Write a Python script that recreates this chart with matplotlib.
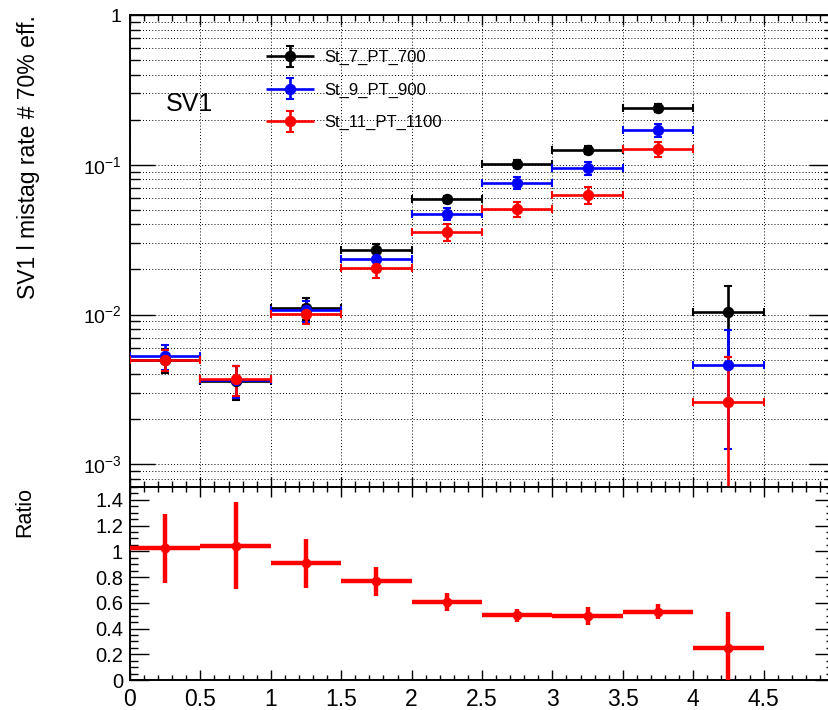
import matplotlib
matplotlib.use("Agg")
import matplotlib.pyplot as plt
import numpy as np
from matplotlib.container import ErrorbarContainer
from matplotlib.legend_handler import HandlerErrorbar
from matplotlib.lines import Line2D
from matplotlib.ticker import (FixedLocator, LogLocator, MultipleLocator,
                               NullFormatter, FuncFormatter)

plt.rcParams["font.family"] = ["Liberation Sans", "DejaVu Sans"]
plt.rcParams["mathtext.fontset"] = "custom"
plt.rcParams["mathtext.rm"] = "Liberation Sans"
plt.rcParams["mathtext.it"] = "Liberation Sans:italic"

# Binning in x (bin centres, half widths)
bin_centers = [0.25, 0.75, 1.25, 1.75, 2.25, 2.75, 3.25, 3.75, 4.25]
bin_half_width = 0.25

# Mistag rate at 70% efficiency for each sample
rate_st7 = [4.95e-3, 3.60e-3, 1.10e-2, 2.69e-2, 5.87e-2, 0.101, 0.125, 0.239, 1.04e-2]
err_st7 = [0.9e-3, 0.9e-3, 1.8e-3, 2.7e-3, 3.5e-3, 6.0e-3, 7.5e-3, 0.014, 5.2e-3]

rate_st9 = [5.27e-3, 3.65e-3, 1.064e-2, 2.33e-2, 4.71e-2, 0.0759, 0.0946, 0.170, 4.57e-3]
err_st9 = [1.0e-3, 0.9e-3, 1.7e-3, 2.8e-3, 4.5e-3, 7.0e-3, 9.5e-3, 0.017, 3.3e-3]

rate_st11 = [5.0e-3, 3.70e-3, 1.01e-2, 2.06e-2, 3.57e-2, 0.0506, 0.0628, 0.127, 2.6e-3]
err_st11 = [0.8e-3, 0.85e-3, 1.4e-3, 3.0e-3, 4.5e-3, 6.0e-3, 8.5e-3, 0.015, 2.6e-3]

# Ratio St_11_PT_1100 / St_7_PT_700
ratio = [1.023, 1.044, 0.906, 0.766, 0.609, 0.503, 0.500, 0.531, 0.247]
ratio_err = [0.27, 0.34, 0.19, 0.115, 0.07, 0.05, 0.07, 0.06, 0.28]

series = [
    ("St_7_PT_700", rate_st7, err_st7, "black"),
    ("St_9_PT_900", rate_st9, err_st9, "#0000ff"),
    ("St_11_PT_1100", rate_st11, err_st11, "#ff0000"),
]


class NoXCapHandler(HandlerErrorbar):
    """Legend entry with caps only on the vertical error bar."""

    def create_artists(self, *args, **kwargs):
        artists = super().create_artists(*args, **kwargs)
        for art in artists:
            if isinstance(art, Line2D) and art.get_marker() == "|":
                art.set_visible(False)
        return artists


W, H = 829, 710
fig = plt.figure(figsize=(W / 100, H / 100), dpi=100)
left, right = 130, 834
ax = fig.add_axes([left / W, 1 - 487 / H, (right - left) / W, (487 - 15) / H])
axr = fig.add_axes([left / W, 1 - 680 / H, (right - left) / W, (680 - 487) / H])

grid_style = dict(color="black", linestyle=(0, (1, 2.2)), linewidth=0.7)

# ---- main panel ----
for label, vals, errs, color in series:
    ax.errorbar(bin_centers, vals, xerr=bin_half_width, yerr=errs, fmt="o",
                color=color, ms=7.2, lw=1.9, capsize=3.0, capthick=1.5,
                label=label, zorder=3)

ax.set_yscale("log", nonpositive="clip")
ax.set_ylim(7.05e-4, 1.0)
ax.set_xlim(0, 5)
ax.yaxis.set_major_locator(FixedLocator([1e-3, 1e-2, 1e-1, 1.0]))
ax.yaxis.set_minor_locator(LogLocator(base=10, subs=np.arange(2, 10)))
ax.yaxis.set_minor_formatter(NullFormatter())
ax.yaxis.set_major_formatter(FuncFormatter(
    lambda v, p: "1" if v >= 1 else r"$\mathdefault{10^{%d}}$" % round(np.log10(v))))
ax.xaxis.set_major_locator(MultipleLocator(0.5))
ax.xaxis.set_minor_locator(MultipleLocator(0.1))
ax.tick_params(axis="x", labelbottom=False)
ax.grid(True, which="both", axis="y", **grid_style)
ax.grid(True, which="major", axis="x", **grid_style)
ax.set_axisbelow(True)

ax.tick_params(which="both", direction="in", top=True, right=True, width=1.0)
ax.tick_params(axis="y", which="major", length=18, labelsize=14, pad=6)
ax.tick_params(axis="y", which="minor", length=7)
ax.tick_params(axis="x", which="major", length=7)
ax.tick_params(axis="x", which="minor", length=4)

ax.set_ylabel("SV1 l mistag rate # 70% eff.", fontsize=16.5, loc="top")
ax.yaxis.set_label_coords((40 - left) / (right - left), 1.0)

ax.text((166 - left) / (right - left), (487 - 104) / 472, "SV1",
        transform=ax.transAxes, fontsize=18, ha="left", va="center")

ax.legend(loc="upper left", bbox_to_anchor=((266 - left) / (right - left), (487 - 50) / 472),
          frameon=False, fontsize=12, handlelength=2.9, handletextpad=0.6,
          labelspacing=1.05, borderpad=0, borderaxespad=0,
          handler_map={ErrorbarContainer: NoXCapHandler(xerr_size=1.45, yerr_size=0.62)})

# ---- ratio panel ----
axr.errorbar(bin_centers, ratio, xerr=bin_half_width, yerr=ratio_err, fmt="o",
             color="#ff0000", ms=6, lw=3.2, capsize=0, zorder=3)
axr.set_xlim(0, 5)
axr.set_ylim(0, 1.5)
axr.xaxis.set_major_locator(MultipleLocator(0.5))
axr.xaxis.set_minor_locator(MultipleLocator(0.1))
axr.yaxis.set_major_locator(MultipleLocator(0.2))
axr.yaxis.set_minor_locator(MultipleLocator(0.05))
fmt_g = FuncFormatter(lambda v, p: "%g" % round(v, 3))
axr.xaxis.set_major_formatter(fmt_g)
axr.yaxis.set_major_formatter(fmt_g)
axr.tick_params(which="both", direction="in", top=True, right=True, width=1.0)
axr.tick_params(axis="y", which="major", length=14, labelsize=14.5, pad=5)
axr.tick_params(axis="y", which="minor", length=6)
axr.tick_params(axis="x", which="major", length=7, labelsize=16.5, pad=6)
axr.tick_params(axis="x", which="minor", length=3.5)
axr.set_ylabel("Ratio", fontsize=15.5, loc="top")
axr.yaxis.set_label_coords((35 - left) / (right - left), 1.0)

for a in (ax, axr):
    for s in a.spines.values():
        s.set_linewidth(1.4)

fig.savefig("out.png", dpi=100)
